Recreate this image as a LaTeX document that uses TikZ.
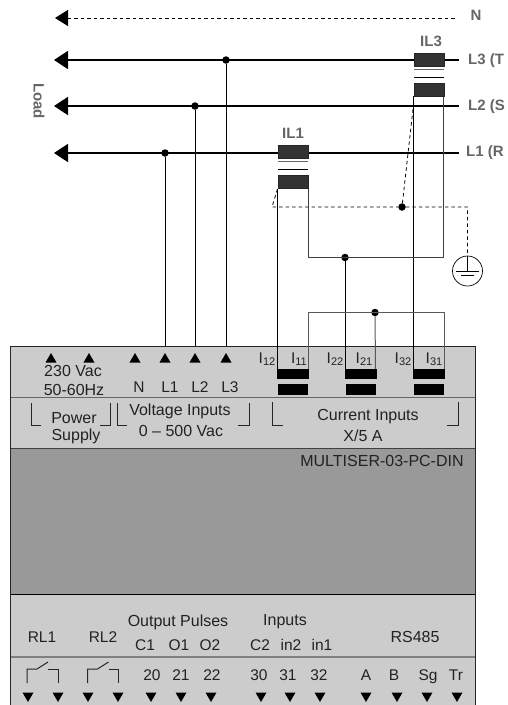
\documentclass[tikz,border=0pt]{standalone}
\usepackage{fontspec}
\setmainfont{Liberation Sans}
\usetikzlibrary{arrows.meta}
\definecolor{panel}{HTML}{CCCCCC}
\definecolor{mid}{HTML}{999999}
\definecolor{core}{HTML}{333333}
\definecolor{labelgrey}{HTML}{666666}
\definecolor{txt}{HTML}{222222}
\newcommand{\termup}[2]{\fill (#1-5.5,#2+4.5) -- (#1+5.5,#2+4.5) -- (#1,#2-5) -- cycle;}
\newcommand{\termdn}[2]{\fill (#1-5.5,#2-4.5) -- (#1+5.5,#2-4.5) -- (#1,#2+5) -- cycle;}
\newcommand{\isub}[2]{I\raisebox{-1.5pt}{\fontsize{11}{12}\selectfont #1#2}}
\begin{document}
\begin{tikzpicture}[x=1pt,y=-1pt,
  wire/.style={line width=1pt,black},
  gwire/.style={line width=1pt,black!65},
  mains/.style={line width=1.8pt,black,{Triangle[length=14pt,width=18pt]}-},
  dashwire/.style={line width=0.8pt,black,dash pattern=on 3.5pt off 3pt},
  jn/.style={circle,fill=black,inner sep=0pt,minimum size=7.5pt},
  lbl/.style={font=\fontsize{15}{16}\selectfont\bfseries,text=labelgrey,inner sep=0pt},
  txtn/.style={font=\fontsize{16}{17}\selectfont,text=txt,inner sep=0pt},
  term/.style={font=\fontsize{15.5}{17}\selectfont,text=txt,inner sep=0pt,text height=11pt,text depth=0pt},
  corebox/.style={fill=core,draw=black!85,line width=0.4pt},
  bar/.style={fill=black},
  brk/.style={line width=1pt,black!85}]
\useasboundingbox (0,0) rectangle (507,705);
% panel
\fill[panel] (10,346) rectangle (475,705);
\fill[mid] (10,449) rectangle (475,594);
\draw[line width=1.1pt,black!60] (10,397.5) -- (475,397.5);
\draw[line width=0.9pt,black!75] (10,448.5) -- (475,448.5);
\draw[line width=0.9pt,black] (10,594) -- (475,594);
\draw[line width=1.3pt,black!50] (10,657) -- (475,657);
\draw[line width=0.9pt,black!85] (10,705) -- (10,346) -- (475,346) -- (475,705);
% anchor points
\coordinate (nE) at (455,18);\coordinate (nW) at (55,18);
\coordinate (l3E) at (459,60);\coordinate (l3W) at (54,60);
\coordinate (l2E) at (459,106);\coordinate (l2W) at (54,106);
\coordinate (l1E) at (459,153);\coordinate (l1W) at (54,153);
\node[jn] (j3) at (226,60) {};
\node[jn] (j2) at (195,106) {};
\node[jn] (j1) at (165,153) {};
\coordinate (t1) at (165,346);\coordinate (t2) at (195,346);\coordinate (t3) at (226,346);
\node[jn] (ja) at (345,257.5) {};
\node[jn] (jb) at (375,312.5) {};
\node[jn] (jd) at (402,207) {};
% mains
\draw[dashwire,{Triangle[length=13pt,width=16pt]}-] (nW) -- (nE);
\draw[mains] (l3W) -- (l3E);
\draw[mains] (l2W) -- (l2E);
\draw[mains] (l1W) -- (l1E);
% tap wires
\draw[wire] (j3) -- (t3);
\draw[wire] (j2) -- (t2);
\draw[wire] (j1) -- (t1);
% transformers
\coordinate (c1bl) at (277.5,189);\coordinate (c1br) at (308,189);
\coordinate (c3bl) at (413.5,96);\coordinate (c3br) at (443.5,96);
\coordinate (a1) at (277.5,369);\coordinate (a2) at (345,369);\coordinate (a3) at (413.5,369);
\coordinate (r1) at (308,369);\coordinate (r2) at (375.5,369);\coordinate (r3) at (444,369);
\draw[wire] (c1bl) -- (a1);
\draw[wire] (c3bl) -- (a3);
\draw[wire] (ja) -- (a2);
\draw[wire,black!75] (c1br) |- (c3br |- ja.center) -- (c3br);
% jumper
\draw[gwire] (r1) -- (308,312.5) -- (444,312.5) -- (r3);
\draw[gwire] (jb) -- (r2);
% earth
\node[circle,draw=black,line width=0.7pt,fill=white,minimum size=30pt,inner sep=0pt] (gnd) at (467.5,271) {};
\coordinate (gt) at (467.5,207);
\coordinate (dl) at (272,207);
\draw[dashwire] (c1bl) -- (dl) -- (jd) -- (gt) -- (gnd.north);
\draw[dashwire] (jd) -- (414,100);
\draw[line width=0.9pt] (gnd.north) -- (467.5,271);
\draw[line width=0.9pt] (456,271) -- (479,271);
\draw[line width=0.9pt] (461,275.5) -- (474,275.5);
% transformer bodies
\foreach \x/\y in {278/145,414/53}{
  \draw[corebox] (\x,\y) rectangle (\x+30,\y+13.5);
  \draw[line width=0.7pt,black!60] (\x,\y+16.5) -- (\x+30,\y+16.5);
  \draw[line width=0.7pt,black] (\x,\y+24.5) -- (\x+30,\y+24.5);
  \draw[corebox] (\x,\y+30.5) rectangle (\x+30,\y+43.5);
}
% input bars
\foreach \x in {277,345,413}{
  \fill[bar] (\x,369) rectangle (\x+31.5,378.5);
  \fill[bar] (\x+.5,384) rectangle (\x+31,394.5);
}
% labels
\node[lbl] (lN) at (476,15) {N};
\node[lbl,anchor=west] (lL3) at (468,61) {L3 (T};
\node[lbl,anchor=west] (lL2) at (468,107) {L2 (S};
\node[lbl,anchor=west] (lL1) at (466,153) {L1 (R};
\node[lbl] (lI3) at (431,41) {IL3};
\node[lbl] (lI1) at (293,133) {IL1};
\node[lbl,rotate=-90] (lLoad) at (39,101) {Load};
% terminals top
\foreach \x in {51,89,135,165,195,226}{\termup{\x}{358}}
\node[txtn] (v230) at (73,371) {230 Vac};
\node[txtn] (hz) at (74,390) {50-60Hz};
\node[term] (tN) at (139,387) {N};
\node[term] (tL1) at (170,387) {L1};
\node[term] (tL2) at (200,387) {L2};
\node[term] (tL3) at (230,387) {L3};
\node[txtn] (pw) at (74,418) {Power};
\node[txtn] (su) at (76,436) {Supply};
\node[txtn] (vi) at (180,411) {Voltage Inputs};
\node[txtn] (vr) at (181,431) {0 – 500 Vac};
\node[txtn] (ci) at (368,417) {Current Inputs};
\node[txtn] (xa) at (363,436) {X/5 A};
\node[txtn] (mod) at (382,461) {MULTISER-03-PC-DIN};
\node[term] (i12) at (267,358) {\isub{1}{2}};
\node[term] (i11) at (299,358) {\isub{1}{1}};
\node[term] (i22) at (335,358) {\isub{2}{2}};
\node[term] (i21) at (364,358) {\isub{2}{1}};
\node[term] (i32) at (403,358) {\isub{3}{2}};
\node[term] (i31) at (434,358) {\isub{3}{1}};
% brackets
\draw[brk] (31,403) |- (41,425);
\draw[brk] (110,403) |- (100,425);
\draw[brk] (117,403) |- (127,425);
\draw[brk] (249,403) |- (238,425);
\draw[brk] (272,402) |- (283,425);
\draw[brk] (458,402) |- (447,425);
% bottom
\node[txtn] (op) at (178,622) {Output Pulses};
\node[txtn] (in) at (285,622) {Inputs};
\node[txtn] (rs) at (415,637) {RS485};
\node[term] (rl1) at (42,637) {RL1};
\node[term] (rl2) at (103,637) {RL2};
\node[term] (c1) at (145,645) {C1};
\node[term] (o1) at (179,645) {O1};
\node[term] (o2) at (210,645) {O2};
\node[term] (c2) at (260,645) {C2};
\node[term] (in2) at (291,645) {in2};
\node[term] (in1) at (322,645) {in1};
\node[term] (n20) at (152,675) {20};
\node[term] (n21) at (181,675) {21};
\node[term] (n22) at (212,675) {22};
\node[term] (n30) at (259,675) {30};
\node[term] (n31) at (288,675) {31};
\node[term] (n32) at (319,675) {32};
\node[term] (ta) at (366,675) {A};
\node[term] (tb) at (394,675) {B};
\node[term] (tsg) at (428,675) {Sg};
\node[term] (ttr) at (456,675) {Tr};
\foreach \x in {0,60.5}{
  \draw[line width=1pt,black!85] (27+\x,683) -- (27+\x,669) -- (37+\x,669) -- (48+\x,662);
  \draw[line width=1pt,black!85] (48+\x,669) -- (58+\x,669) -- (58+\x,683);
}
\foreach \x in {28,58,88,118,151,181,211,261,290,320,366,397,427,457}{\termdn{\x}{697}}
\end{tikzpicture}
\end{document}
